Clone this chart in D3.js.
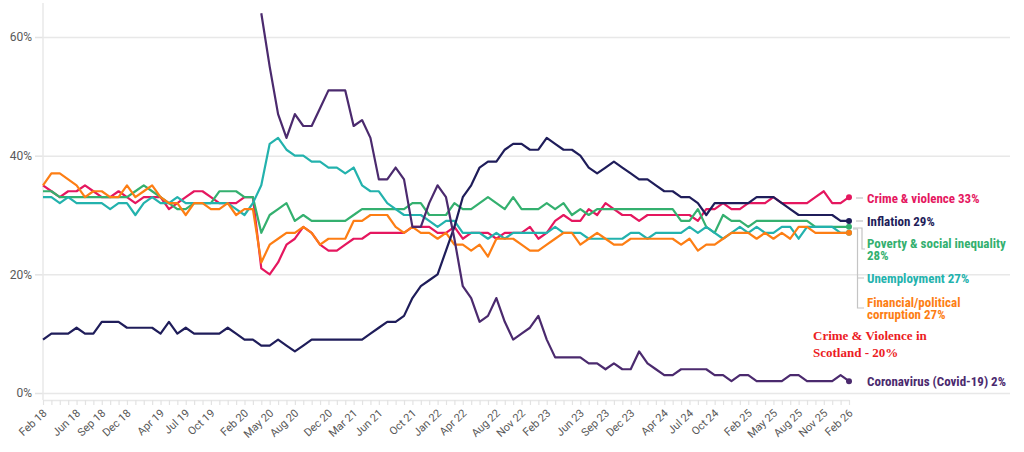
<!DOCTYPE html>
<html>
<head>
<meta charset="utf-8">
<script src="https://cdn.jsdelivr.net/npm/d3@7"></script>
<style>
  html, body { margin: 0; padding: 0; background: #fff; }
  svg { display: block; }
  .tick text { font-family: Roboto, sans-serif; fill: #595959; }
</style>
</head>
<body>
<script>
// months Feb 18 .. Feb 26
var months = d3.timeMonth.range(new Date(2018, 1, 1), new Date(2026, 2, 1)).map(d3.timeFormat('%b %y'));

var tickLabels = ['Feb 18', 'Jun 18', 'Sep 18', 'Dec 18', 'Apr 19', 'Jul 19', 'Oct 19', 'Feb 20',
  'May 20', 'Aug 20', 'Dec 20', 'Mar 21', 'Jun 21', 'Oct 21', 'Jan 22', 'Apr 22', 'Aug 22',
  'Nov 22', 'Feb 23', 'Jun 23', 'Sep 23', 'Dec 23', 'Apr 24', 'Jul 24', 'Oct 24', 'Feb 25',
  'May 25', 'Aug 25', 'Nov 25', 'Feb 26'];

var yTicks = [0, 20, 40, 60];

var crime = [35,34,33,34,34,35,34,33,33,34,33,32,33,33,33,31,32,33,34,34,33,32,32,32,33,33,
  21,20,22,25,26,28,27,25,24,24,25,26,26,27,27,27,27,27,28,28,28,27,
  27,28,26,27,27,27,26,27,27,27,28,26,27,29,30,29,29,31,30,32,31,30,30,29,
  30,30,30,30,30,30,29,31,31,32,31,31,32,32,32,33,32,32,32,32,33,34,32,32,33];

var inflation = [9,10,10,10,11,10,10,12,12,12,11,11,11,11,10,12,10,11,10,10,10,10,11,10,
  9,9,8,8,9,8,7,8,9,9,9,9,9,9,9,10,11,12,12,13,16,18,19,20,
  24,28,33,35,38,39,39,41,42,42,41,41,43,42,41,41,40,38,37,38,39,38,37,36,
  36,35,34,34,33,33,32,30,32,32,32,32,32,33,33,33,32,31,30,30,30,30,30,29,29];

var poverty = [34,34,33,33,33,33,33,33,33,33,33,34,35,34,33,32,31,31,32,32,32,34,34,34,33,33,
  27,30,31,32,29,30,29,29,29,29,29,30,31,31,31,31,31,31,32,32,30,30,
  30,32,31,31,32,33,32,31,33,31,31,31,32,31,32,30,31,30,31,31,31,31,31,31,
  31,31,31,31,29,29,31,28,27,30,29,29,28,29,29,29,29,29,29,29,28,28,28,28,28];

var unemployment = [33,33,32,33,32,32,32,32,31,32,32,30,32,33,32,32,33,32,32,32,32,32,32,31,30,32,
  35,42,43,41,40,40,39,39,38,38,37,38,35,34,34,32,31,30,30,30,29,28,
  29,29,27,27,27,26,27,26,27,27,27,27,27,28,27,27,27,26,26,26,26,26,27,27,
  26,27,27,27,27,28,27,28,27,26,27,28,27,28,27,27,28,28,26,28,28,28,28,27,27];

var corruption = [35,37,37,36,35,33,34,34,33,33,35,33,34,35,33,32,32,30,32,32,31,31,32,30,31,31,
  22,25,26,27,27,28,27,25,26,26,26,29,29,30,30,30,28,27,28,27,27,26,
  27,25,25,24,25,23,26,26,26,25,24,24,25,26,27,27,25,26,27,26,25,25,26,26,
  26,26,26,26,25,26,24,25,25,26,27,27,27,26,27,26,27,26,28,28,27,27,27,27,27];

// covid question asked from Apr 20
var covidStart = 'Apr 20';
var covid = [64,55,47,43,47,45,45,48,51,51,51,45,46,43,36,36,38,36,28,28,32,35,
  33,26,18,16,12,13,16,12,9,10,11,13,9,6,6,6,6,5,5,4,5,4,4,7,5,4,3,3,
  4,4,4,4,3,3,2,3,3,2,2,2,2,3,3,2,2,2,2,3,2,2];

var series = [
  { name: 'Crime & violence 33%', values: crime, color: '#e5175f' },
  { name: 'Poverty & social inequality 28%', values: poverty, color: '#34b06f' },
  { name: 'Unemployment 27%', values: unemployment, color: '#23b2ad' },
  { name: 'Financial/political corruption 27%', values: corruption, color: '#fd7e14' },
  { name: 'Inflation 29%', values: inflation, color: '#1f1d5a' },
  { name: 'Coronavirus (Covid-19) 2%', values: months.map(function (m, i) {
      var k = i - months.indexOf(covidStart);
      return k >= 0 ? covid[k] : null;
    }), color: '#4b2a6e' }
];

var width = 1024, height = 452;
var left = 43, right = 849;

var svg = d3.select('body').append('svg')
  .attr('width', width)
  .attr('height', height);

var x = d3.scalePoint().domain(months).range([left, right]);
var y = d3.scaleLinear().domain([0, 60]).range([393, 37]);

// grid
svg.append('g').selectAll('line').data(yTicks).join('line')
  .attr('x1', left).attr('x2', 1010)
  .attr('y1', function (d) { return y(d) + 0.5; })
  .attr('y2', function (d) { return y(d) + 0.5; })
  .attr('stroke', '#e8e8e8').attr('stroke-width', 1.5);

// y axis
var yAxis = svg.append('g')
  .attr('transform', 'translate(' + left + ',0)')
  .call(d3.axisLeft(y).tickValues(yTicks).tickSize(8).tickFormat(function (d) { return d + '%'; }));
yAxis.select('.domain').remove();
yAxis.append('line').attr('x1', 0).attr('x2', 0).attr('y1', 3).attr('y2', 400)
  .attr('stroke', '#e8e8e8').attr('stroke-width', 1.5);
yAxis.selectAll('.tick line').attr('stroke', '#e3e3e3').attr('stroke-width', 1.5);
yAxis.selectAll('.tick text').attr('font-size', 12).attr('x', -11);

// x axis
var xAxis = svg.append('g')
  .attr('transform', 'translate(0,400)')
  .call(d3.axisBottom(x).tickSize(5).tickSizeOuter(0)
    .tickFormat(function (d) { return tickLabels.indexOf(d) >= 0 ? d : ''; }));
xAxis.select('.domain').attr('stroke', '#e8e8e8').attr('stroke-width', 1.5);
xAxis.selectAll('.tick line').attr('stroke', '#e3e3e3').attr('stroke-width', 1.2);
xAxis.selectAll('.tick text')
  .attr('font-size', 11)
  .attr('text-anchor', 'end')
  .attr('dy', 0)
  .attr('y', 0)
  .attr('transform', 'translate(4,14) rotate(-43)');

// lines
var line = d3.line()
  .defined(function (d) { return d != null; })
  .x(function (d, i) { return x(months[i]); })
  .y(function (d) { return y(d); });

svg.append('g').selectAll('path').data(series).join('path')
  .attr('d', function (s) { return line(s.values); })
  .attr('fill', 'none')
  .attr('stroke', function (s) { return s.color; })
  .attr('stroke-width', 2.2)
  .attr('stroke-linejoin', 'round');

// end dots
svg.append('g').selectAll('circle').data(series).join('circle')
  .attr('cx', x(months[months.length - 1]))
  .attr('cy', function (s) { return y(s.values[s.values.length - 1]); })
  .attr('r', 3)
  .attr('fill', function (s) { return s.color; });

// leader lines
var lead = svg.append('g').attr('stroke', '#c4c4c4').attr('stroke-width', 1.2).attr('fill', 'none');
lead.append('path').attr('d', 'M856,198H863');
lead.append('path').attr('d', 'M856,221H863');
lead.append('path').attr('d', 'M853,228H862V249H865');
lead.append('path').attr('d', 'M853,229H857.5V308H864M857.5,278H864');

// labels
var labelFont = "'Liberation Sans Narrow', 'Roboto Condensed', 'DejaVu Sans Condensed', Roboto, sans-serif";
var labels = [
  { lines: ['Crime & violence 33%'], y: 198, color: '#e5175f' },
  { lines: ['Inflation 29%'], y: 221, color: '#1f1d5a' },
  { lines: ['Poverty & social inequality', '28%'], y: 243, color: '#34b06f' },
  { lines: ['Unemployment 27%'], y: 278, color: '#23b2ad' },
  { lines: ['Financial/political', 'corruption 27%'], y: 302, color: '#fd7e14' },
  { lines: ['Coronavirus (Covid-19) 2%'], y: 381, color: '#4b2a6e' }
];

var lab = svg.append('g').selectAll('text').data(labels).join('text')
  .attr('x', 867)
  .attr('y', function (d) { return d.y + 4.5; })
  .attr('fill', function (d) { return d.color; })
  .attr('font-family', labelFont)
  .attr('font-weight', 'bold')
  .attr('font-size', 13);
lab.selectAll('tspan').data(function (d) { return d.lines; }).join('tspan')
  .attr('x', 867)
  .attr('dy', function (d, i) { return i === 0 ? 0 : 12.8; })
  .text(function (d) { return d; });

// scotland note
var note = svg.append('text')
  .attr('x', 813).attr('y', 340)
  .attr('fill', '#ec1c24')
  .attr('font-family', "'Liberation Serif', 'Times New Roman', serif")
  .attr('font-weight', 'bold')
  .attr('font-size', 13);
note.append('tspan').attr('x', 813).text('Crime & Violence in');
note.append('tspan').attr('x', 813).attr('dy', 17).text('Scotland - 20%');
</script>
</body>
</html>
